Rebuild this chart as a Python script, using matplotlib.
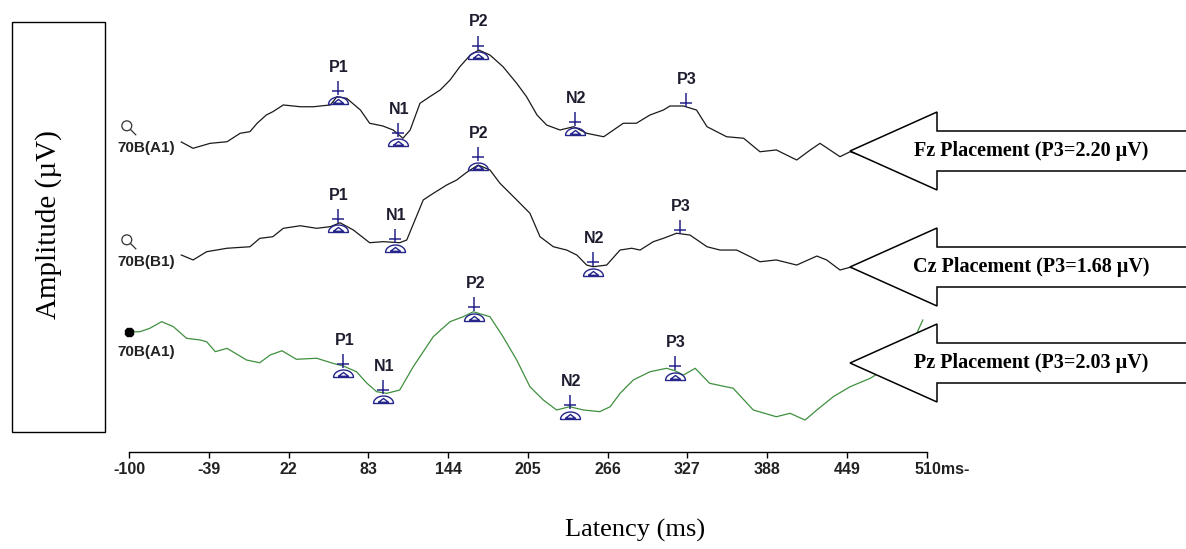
import numpy as np
import matplotlib
matplotlib.use("Agg")
import matplotlib.pyplot as plt
from matplotlib.path import Path
from matplotlib.patches import Polygon, Rectangle
from matplotlib.transforms import offset_copy, ScaledTranslation

# latency (ms) / amplitude (uV, relative to each trace's own baseline)
fz_ms = [-60, -51, -38, -25, -15, -7.5, -2, 5, 10, 18, 31, 41, 54, 59, 66.5, 77, 84, 94, 102,
         109.5, 115, 122.5, 130, 138, 145.5, 153, 161, 167.6, 176, 186, 196.5, 204, 212, 219.4,
         229.6, 240, 250, 263, 278, 288, 298.4, 308.6, 313.7, 324, 334, 342, 357, 370, 382.5,
         395, 410.6, 421, 428.4, 436, 443.7, 451.4, 463]
fz_uv = [0.0, -0.42, -0.09, 0.02, 0.58, 0.69, 1.25, 1.8, 2.02, 2.47, 2.35, 2.35, 2.47, 3.02, 2.91,
         2.13, 1.25, 1.07, 0.8, 0.25, 0.8, 2.58, 3.02, 3.47, 4.13, 5.02, 5.8, 6.13, 5.8, 5.02, 3.91,
         3.02, 1.8, 1.13, 0.8, 1.02, 0.58, 0.35, 1.25, 1.25, 1.8, 2.13, 2.4, 2.4, 2.13, 1.02, 0.35,
         0.25, -0.65, -0.53, -1.2, -0.53, -0.09, -0.53, -0.98, -0.65, -1.0]

cz_ms = [-60, -51, -40.6, -25, -7.5, 0, 10, 18, 31, 43.5, 54, 61.4, 71.5, 84, 94.5, 107, 112.4,
         125, 132.7, 143, 150.6, 158.5, 167, 176, 183.7, 196.5, 206.6, 214.3, 224.5, 234.7, 242.4,
         250, 255, 265.3, 275.5, 284.4, 290.8, 301, 308.6, 318.8, 329, 342, 352, 364.7, 375, 382.5,
         395, 410.6, 426, 433.5, 443.7, 451.4, 463]
cz_uv = [0.0, -0.33, 0.22, 0.45, 0.55, 1.11, 1.22, 1.78, 1.95, 1.78, 1.89, 2.15, 1.67, 0.82, 0.89,
         0.82, 1.0, 3.67, 4.11, 4.67, 5.0, 5.53, 6.0, 5.67, 4.78, 3.67, 2.78, 1.22, 0.55, 0.33, 0.0,
         -0.67, -0.78, -0.67, 0.33, 0.45, 0.33, 0.89, 1.11, 1.45, 1.33, 0.55, 0.33, 0.33, -0.11,
         -0.45, -0.33, -0.67, -0.07, -0.33, -1.0, -0.82, -1.0]

pz_ms = [-100, -91.6, -84, -75, -66, -56, -45.7, -40.6, -34, -25, -10, 0, 8, 17, 28, 43.5, 56, 64,
         74, 82, 89.4, 97, 107, 117.4, 132.7, 145.5, 155.6, 163.3, 176, 186, 196.5, 206.6, 216.8,
         227, 237, 247.4, 260, 268, 275.5, 285.6, 298.4, 311, 317.5, 324, 333, 344, 362, 377.4,
         395, 405.5, 417, 426, 438.6, 451.4, 466.7, 489.6, 502.4, 507]
pz_uv = [0.0, 0.02, 0.25, 0.69, 0.35, -0.42, -0.53, -0.65, -1.31, -1.09, -1.87, -2.05, -1.53,
         -1.25, -1.82, -1.75, -2.09, -2.27, -2.65, -3.42, -3.98, -4.09, -3.87, -2.31, -0.31, 0.69,
         1.02, 1.35, 1.02, -0.31, -1.87, -3.65, -4.53, -5.2, -4.98, -5.2, -5.31, -4.98, -4.09, -3.2,
         -2.65, -2.42, -2.58, -2.87, -2.42, -3.42, -3.75, -5.2, -5.65, -5.42, -5.87, -5.2, -4.31,
         -3.65, -3.09, -1.87, -0.09, 0.8]

# peak markers: name, latency, amplitude of the marker, whether the dome is shown
fz_peaks = ["P1", "N1", "P2", "N2", "P3"]
fz_peak_ms = [59.8, 105.7, 166.9, 241, 326]
fz_peak_uv = [2.8, 0.0, 5.8, 0.73, 2.0]
fz_peak_dome = [True, True, True, True, False]

cz_peaks = ["P1", "N1", "P2", "N2", "P3"]
cz_peak_ms = [60, 103.4, 167, 254.8, 321]
cz_peak_uv = [1.8, 0.45, 5.93, -1.11, 1.05]
cz_peak_dome = [True, True, True, True, False]

pz_peaks = ["P1", "N1", "P2", "N2", "P3"]
pz_peak_ms = [64, 94.5, 164, 237.2, 317.5]
pz_peak_uv = [-2.75, -4.49, 1.02, -5.53, -2.93]
pz_peak_dome = [True, True, True, True, True]

channel_names = ["70B(A1)", "70B(B1)", "70B(A1)"]
arrow_labels = ["Fz Placement (P3=2.20 \u00b5V)", "Cz Placement (P3=1.68 \u00b5V)",
                "Pz Placement (P3=2.03 \u00b5V)"]
tick_vals = [-100, -39, 22, 83, 144, 205, 266, 327, 388, 449, 510]
tick_text = ["-100", "-39", "22", "83", "144", "205", "266", "327", "388", "449", "510ms-"]

# layout (pixels)
W, H, DPI = 1186, 549, 100
PX_PER_MS = 1.3077
PX_PER_UV = 15.0
trace_rows = [142, 255, 332]
icon_lift = [14, 13, 0]
axis_row = 452
arrow_rows = [151, 267, 363]

plt.rcParams["font.family"] = ["Liberation Sans", "DejaVu Sans"]

fig = plt.figure(figsize=(W / DPI, H / DPI), dpi=DPI)
ax = fig.add_axes([0, 0, 1, 1])
ax.set_xlim(-100 - 129 / PX_PER_MS, -100 + (W - 129) / PX_PER_MS)
ax.set_ylim(-H / PX_PER_UV, 0)
ax.patch.set_alpha(0)

for s in ["top", "left", "right"]:
    ax.spines[s].set_visible(False)
ax.spines["bottom"].set_position(("data", -axis_row / PX_PER_UV))
ax.spines["bottom"].set_bounds(-100, 510)
ax.spines["bottom"].set_linewidth(1.0)
ax.set_yticks([])
ax.set_xticks(tick_vals)
ax.set_xticklabels(tick_text, fontsize=11.5, fontweight="bold", color="#222222")
ax.tick_params(axis="x", direction="out", length=4, width=1, pad=3)
last = ax.get_xticklabels()[-1]
last.set_transform(last.get_transform() + ScaledTranslation(15 / DPI, 0, fig.dpi_scale_trans))

# marker shapes
cross = Path([(0, 1), (0, -1), (-0.85, -0.45), (0.85, -0.45)],
             [Path.MOVETO, Path.LINETO, Path.MOVETO, Path.LINETO])
t = np.linspace(0, np.pi, 20)
arch = Path(np.column_stack([np.cos(t), -0.4 + 0.75 * np.sin(t)]))
base = Path([(-1, -0.4), (1, -0.4)])
inner = Path([(-0.5, -0.28), (0, 0.1), (0.5, -0.28), (-0.5, -0.28)])
dome = Path.make_compound_path(arch, base, inner)
lens = Path.make_compound_path(
    Path.circle((-0.3, 0.3), 0.55),
    Path([(0.12, -0.12), (0.75, -0.75)]))

mark_col = "#25258a"
label_col = "#1e1e30"

traces = [(fz_ms, fz_uv, fz_peaks, fz_peak_ms, fz_peak_uv, fz_peak_dome, "#1a1a1a"),
          (cz_ms, cz_uv, cz_peaks, cz_peak_ms, cz_peak_uv, cz_peak_dome, "#1a1a1a"),
          (pz_ms, pz_uv, pz_peaks, pz_peak_ms, pz_peak_uv, pz_peak_dome, "#3f8f3f")]

for i, (ms, uv, names, pms, puv, pdome, col) in enumerate(traces):
    off = -trace_rows[i] / PX_PER_UV
    ax.plot(ms, np.array(uv) + off, color=col, lw=0.9, zorder=2)

    py = np.array(puv) + off
    tr_cross = offset_copy(ax.transData, fig, x=0, y=12.5, units="dots")
    tr_text = offset_copy(ax.transData, fig, x=1, y=33, units="dots")
    ax.plot(pms, py, ls="none", marker=cross, ms=9.4, mew=1.1,
            mec=mark_col, transform=tr_cross, zorder=3)
    dome_ms = [m for m, d in zip(pms, pdome) if d]
    dome_y = [y for y, d in zip(py, pdome) if d]
    ax.plot(dome_ms, dome_y, ls="none", marker=dome, ms=14.4, mew=1.0,
            mec=mark_col, mfc="none", zorder=3)
    for name, m, y in zip(names, pms, py):
        ax.text(m, y, name, transform=tr_text, ha="center", va="center",
                fontsize=11.5, fontweight="bold", color=label_col)

    # channel icon + name
    start_y = off + icon_lift[i] / PX_PER_UV
    if i < 2:
        ax.plot([-100], [start_y], ls="none", marker=lens, ms=11, mew=0.9,
                mec="#333333", mfc="none", zorder=3)
    else:
        ax.plot([-100], [start_y], ls="none", marker="8", ms=6.5,
                color="black", zorder=3)
    tr_name = offset_copy(ax.transData, fig, x=-12, y=-20, units="dots")
    ax.text(-100, start_y, channel_names[i], transform=tr_name, ha="left",
            va="center", fontsize=11, fontweight="bold", color="#222222")

# decorations in pixel space
deco = fig.add_axes([0, 0, 1, 1], zorder=5)
deco.set_xlim(0, W)
deco.set_ylim(H, 0)
deco.axis("off")
deco.patch.set_alpha(0)

deco.add_patch(Rectangle((11.5, 21.5), 93.5, 410, fill=False, ec="black", lw=1.0))
deco.text(49, 225, "Amplitude (\u00b5V)", rotation=90, ha="center", va="center",
          fontsize=21, family="Liberation Serif", color="black")
deco.text(635, 530, "Latency (ms)", ha="center", va="center",
          fontsize=19, family="Liberation Serif", color="black")

tip_x, neck_x, head_h, shaft_h = 850, 937, 39, 20
for row, label in zip(arrow_rows, arrow_labels):
    pts = [(tip_x, row), (neck_x, row - head_h), (neck_x, row - shaft_h),
           (W + 20, row - shaft_h), (W + 20, row + shaft_h), (neck_x, row + shaft_h),
           (neck_x, row + head_h)]
    deco.add_patch(Polygon(pts, closed=True, fc="white", ec="black", lw=1.1))
    deco.text(1031, row, label, ha="center", va="center", fontsize=14.5,
              fontweight="bold", family="Liberation Serif", color="black")

fig.savefig("out.png", dpi=DPI)
